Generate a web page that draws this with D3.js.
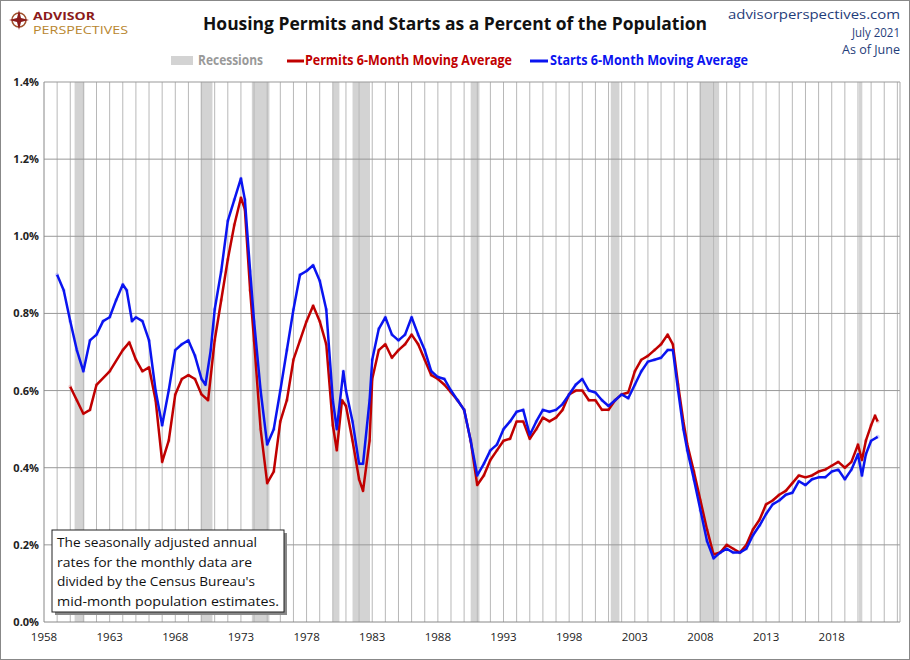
<!DOCTYPE html><html><head><meta charset="utf-8">
<script src="https://cdn.jsdelivr.net/npm/d3@7"></script>
<style>body{margin:0;background:#fff}text{font-family:"Open Sans",sans-serif}</style></head><body>
<svg id="c" width="910" height="660"></svg>
<script>
const recessions=[[1960.33,1961.08],[1969.92,1970.83],[1973.83,1975.17],[1980.0,1980.5],[1981.5,1982.83],[1990.5,1991.17],[2001.17,2001.83],[2007.92,2009.42],[2020.08,2020.33]];
const permitYears=[1960.0,1960.5,1961,1961.5,1962,1963,1964,1964.5,1965,1965.5,1966,1966.5,1967,1967.5,1968,1968.5,1969,1969.5,1970,1970.5,1971,1971.5,1972,1972.5,1973,1973.3,1973.7,1974,1974.5,1975,1975.5,1976,1976.5,1977,1977.5,1978,1978.5,1979,1979.5,1980,1980.3,1980.7,1981,1981.5,1982,1982.3,1982.8,1983,1983.5,1984,1984.5,1985,1985.5,1986,1986.5,1987,1987.5,1988,1988.5,1989,1989.5,1990,1990.5,1991,1991.5,1992,1992.5,1993,1993.5,1994,1994.5,1995,1995.5,1996,1996.5,1997,1997.5,1998,1998.5,1999,1999.5,2000,2000.5,2001,2001.5,2002,2002.5,2003,2003.5,2004,2004.5,2005,2005.5,2005.9,2006.3,2006.7,2007,2007.5,2008,2008.5,2009,2009.5,2010,2010.5,2011,2011.5,2012,2012.5,2013,2013.5,2014,2014.5,2015,2015.5,2016,2016.5,2017,2017.5,2018,2018.5,2019,2019.5,2020,2020.3,2020.6,2021,2021.3,2021.5];
const permitVals=[.61,.575,.54,.55,.615,.65,.705,.725,.68,.65,.66,.575,.415,.47,.59,.63,.64,.63,.59,.575,.73,.835,.94,1.03,1.10,1.07,.86,.73,.50,.36,.39,.52,.575,.68,.73,.78,.82,.78,.72,.51,.445,.575,.56,.47,.37,.34,.47,.63,.705,.72,.685,.705,.72,.745,.72,.68,.64,.63,.615,.595,.575,.55,.47,.355,.38,.42,.445,.47,.475,.52,.52,.475,.50,.53,.52,.53,.55,.59,.60,.60,.575,.575,.55,.55,.575,.59,.595,.65,.68,.69,.705,.72,.745,.72,.615,.52,.46,.39,.315,.24,.175,.18,.20,.19,.18,.20,.24,.265,.305,.315,.33,.34,.36,.38,.375,.38,.39,.395,.405,.415,.40,.415,.46,.42,.47,.51,.535,.52];
const startYears=[1959.0,1959.5,1960,1960.5,1961,1961.5,1962,1962.5,1963,1963.5,1964,1964.3,1964.7,1965,1965.5,1966,1966.5,1967,1967.5,1968,1968.5,1969,1969.5,1970,1970.3,1970.7,1971,1971.5,1972,1972.5,1973,1973.3,1973.7,1974,1974.5,1975,1975.5,1976,1976.5,1977,1977.5,1978,1978.5,1979,1979.5,1980,1980.3,1980.8,1981,1981.5,1982,1982.3,1982.8,1983,1983.5,1984,1984.5,1985,1985.5,1986,1986.5,1987,1987.5,1988,1988.5,1989,1989.5,1990,1990.5,1991,1991.5,1992,1992.5,1993,1993.5,1994,1994.5,1995,1995.5,1996,1996.5,1997,1997.5,1998,1998.5,1999,1999.5,2000,2000.5,2001,2001.5,2002,2002.5,2003,2003.5,2004,2004.5,2005,2005.5,2005.9,2006.3,2006.7,2007,2007.5,2008,2008.5,2009,2009.5,2010,2010.5,2011,2011.5,2012,2012.5,2013,2013.5,2014,2014.5,2015,2015.5,2016,2016.5,2017,2017.5,2018,2018.5,2019,2019.5,2020,2020.3,2020.6,2021,2021.5];
const startVals=[.90,.86,.78,.705,.65,.73,.745,.78,.79,.835,.875,.86,.78,.79,.78,.73,.60,.51,.60,.705,.72,.73,.69,.63,.615,.705,.81,.91,1.04,1.095,1.15,1.095,.91,.78,.60,.46,.50,.60,.705,.81,.90,.91,.925,.885,.81,.575,.50,.65,.60,.52,.41,.41,.575,.68,.76,.79,.745,.73,.745,.79,.745,.705,.65,.635,.63,.60,.575,.55,.47,.38,.41,.445,.46,.50,.52,.545,.55,.485,.52,.55,.545,.55,.565,.59,.615,.63,.60,.595,.575,.56,.575,.59,.58,.615,.65,.675,.68,.685,.705,.705,.60,.50,.445,.37,.29,.21,.165,.18,.19,.18,.18,.19,.225,.25,.28,.305,.315,.33,.335,.365,.355,.37,.375,.375,.39,.395,.37,.395,.435,.38,.435,.47,.48];
const yTicks=[0,.2,.4,.6,.8,1.0,1.2,1.4];
const xTicks=[1958,1963,1968,1973,1978,1983,1988,1993,1998,2003,2008,2013,2018];

const svg=d3.select("#c");
svg.append("rect").attr("x",0.5).attr("y",0.5).attr("width",909).attr("height",659).attr("fill","#fff").attr("stroke","#888");
const L=44,R=900,T=82,B=622;
const x=d3.scaleLinear().domain([1958,2023.2]).range([L,R]);
const y=d3.scaleLinear().domain([0,1.4]).range([B,T]);
const g=svg.append("g");
g.selectAll(".rec").data(recessions).join("rect").attr("x",d=>x(d[0])).attr("width",d=>x(d[1])-x(d[0])).attr("y",T).attr("height",B-T).attr("fill","#d3d3d3");
g.selectAll(".vg").data(d3.range(1959,2024)).join("line").attr("x1",d=>x(d)).attr("x2",d=>x(d)).attr("y1",T).attr("y2",B).attr("stroke","#b8b8b8").attr("stroke-width",1);
g.selectAll(".hg").data(yTicks.slice(1)).join("line").attr("x1",L).attr("x2",R).attr("y1",d=>y(d)).attr("y2",d=>y(d)).attr("stroke","#999");
g.append("line").attr("x1",L).attr("x2",R).attr("y1",B).attr("y2",B).attr("stroke","#888");
g.append("line").attr("x1",L).attr("x2",L).attr("y1",T).attr("y2",B).attr("stroke","#888");
g.append("line").attr("x1",R).attr("x2",R).attr("y1",T).attr("y2",B).attr("stroke","#aaa");
svg.append("g").selectAll("text").data(yTicks).join("text").attr("x",L-5).attr("y",d=>y(d)+4).attr("text-anchor","end").attr("font-size",11).attr("font-weight","bold").attr("fill","#222").text(d=>d.toFixed(1)+"%");
svg.append("g").selectAll("text").data(xTicks).join("text").attr("x",d=>x(d)).attr("y",641).attr("text-anchor","middle").attr("font-size",11.5).attr("fill","#222").text(d=>d);
const line=d3.line().x(d=>x(d[0])).y(d=>y(d[1])).curve(d3.curveLinear);
g.selectAll(".pd").data(d3.zip(permitYears,permitVals)).join("circle").attr("cx",d=>x(d[0])).attr("cy",d=>y(d[1])).attr("r",2).attr("fill","#e08080").attr("opacity",0.35);
g.selectAll(".sd").data(d3.zip(startYears,startVals)).join("circle").attr("cx",d=>x(d[0])).attr("cy",d=>y(d[1])).attr("r",2).attr("fill","#8080ff").attr("opacity",0.35);
g.append("path").attr("d",line(d3.zip(permitYears,permitVals))).attr("fill","none").attr("stroke","#c00000").attr("stroke-width",2.5).attr("stroke-linejoin","round");
g.append("path").attr("d",line(d3.zip(startYears,startVals))).attr("fill","none").attr("stroke","#0a14f0").attr("stroke-width",2.5).attr("stroke-linejoin","round");
svg.append("rect").attr("x",55).attr("y",533).attr("width",232).attr("height",82).attr("fill","#888");
svg.append("rect").attr("x",52).attr("y",530).attr("width",232).attr("height",82).attr("fill","#fff").attr("stroke","#222");
["The seasonally adjusted annual","rates for the monthly  data are","divided by the Census Bureau's","mid-month  population estimates."].forEach((t,i)=>svg.append("text").attr("x",57).attr("y",547+i*19.5).attr("font-size",12.5).attr("fill","#111").attr("textLength",[200,195,198,222][i]).attr("lengthAdjust","spacingAndGlyphs").text(t));
svg.append("text").attr("x",203).attr("y",30).attr("font-size",18).attr("font-weight","bold").attr("fill","#111").attr("textLength",504).attr("lengthAdjust","spacingAndGlyphs").text("Housing  Permits and Starts  as a Percent of the Population");
[["advisorperspectives.com",19,172],["July 2021",37,48],["As of June",54,58]].forEach(d=>svg.append("text").attr("x",900-d[2]).attr("y",d[1]).attr("font-size",12.5).attr("fill","#1f3d7a").attr("textLength",d[2]).attr("lengthAdjust","spacingAndGlyphs").text(d[0]));
const lg=svg.append("g").attr("transform","translate(19,20)");
lg.append("circle").attr("r",7).attr("fill","none").attr("stroke","#a0522d").attr("stroke-width",1.5);
lg.append("path").attr("d","M0,-10L2,-2L10,0L2,2L0,10L-2,2L-10,0L-2,-2Z").attr("fill","#8b1a1a");
svg.append("text").attr("x",33).attr("y",20).attr("font-size",11).attr("font-weight","bold").attr("fill","#8b1a1a").attr("textLength",62).attr("lengthAdjust","spacingAndGlyphs").text("ADVISOR");
svg.append("text").attr("x",33).attr("y",34).attr("font-size",10.5).attr("fill","#b8862e").attr("textLength",95).attr("lengthAdjust","spacingAndGlyphs").text("PERSPECTIVES");
const lgd=svg.append("g");
lgd.append("rect").attr("x",171).attr("y",56).attr("width",22).attr("height",9).attr("fill","#d3d3d3");
lgd.append("text").attr("x",198).attr("y",65).attr("font-size",13.5).attr("font-weight","bold").attr("fill","#999").attr("textLength",65).attr("lengthAdjust","spacingAndGlyphs").text("Recessions");
lgd.append("line").attr("x1",287).attr("x2",304).attr("y1",61).attr("y2",61).attr("stroke","#c00000").attr("stroke-width",3);
lgd.append("text").attr("x",305).attr("y",65).attr("font-size",13.5).attr("font-weight","bold").attr("fill","#c00000").attr("textLength",207).attr("lengthAdjust","spacingAndGlyphs").text("Permits 6-Month Moving Average");
lgd.append("line").attr("x1",530).attr("x2",548).attr("y1",61).attr("y2",61).attr("stroke","#0a14f0").attr("stroke-width",3);
lgd.append("text").attr("x",550).attr("y",65).attr("font-size",13.5).attr("font-weight","bold").attr("fill","#0a14f0").attr("textLength",198).attr("lengthAdjust","spacingAndGlyphs").text("Starts 6-Month Moving Average");
</script></body></html>
